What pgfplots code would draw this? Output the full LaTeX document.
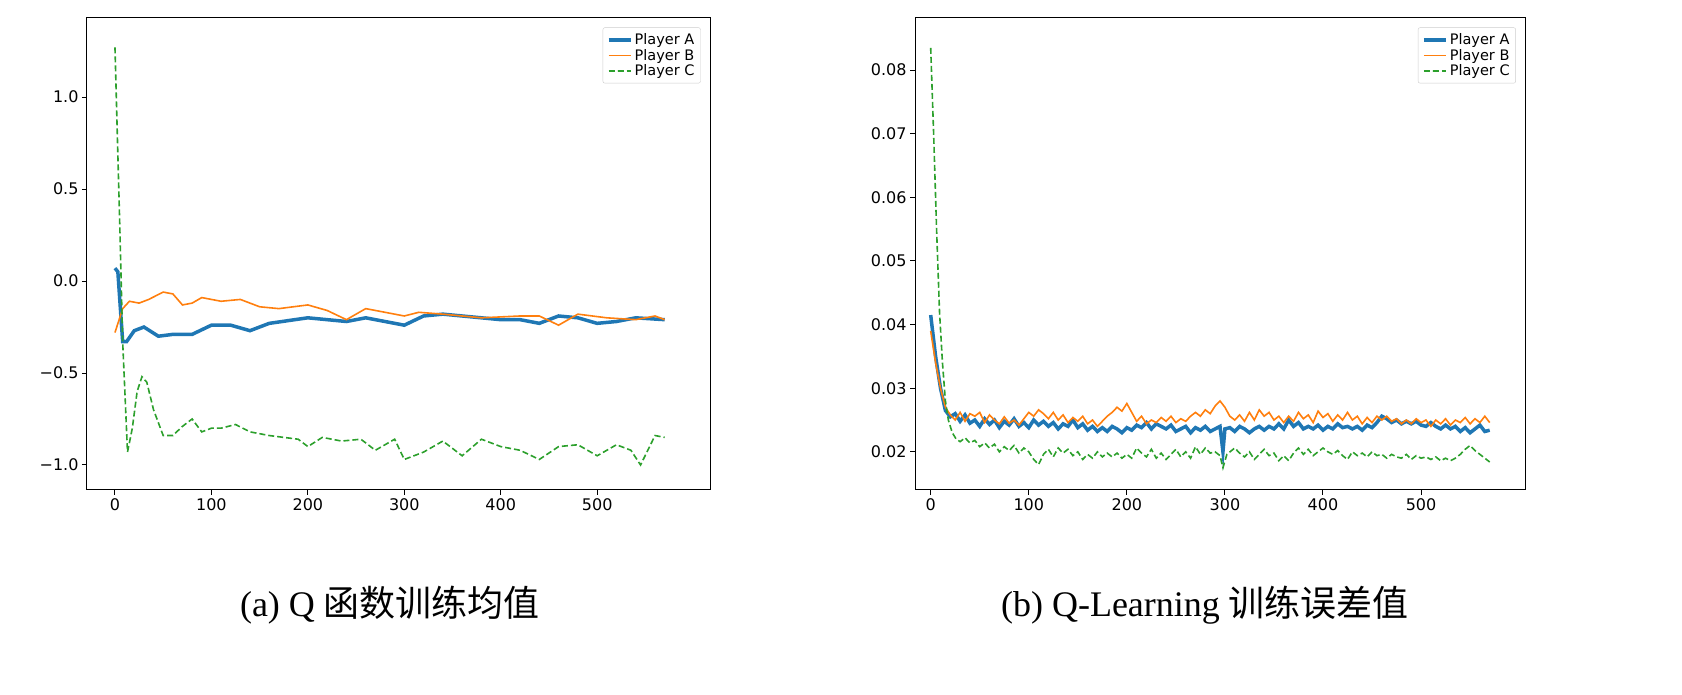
\documentclass[border=0pt]{standalone}
\usepackage{pgfplots}
\pgfplotsset{compat=1.18}
\usepackage{fontspec}
\setmainfont{Liberation Serif}
\newfontfamily\dv{DejaVu Sans}
\newfontfamily\cjk{Noto Sans CJK SC}
\definecolor{cA}{HTML}{1F77B4}
\definecolor{cB}{HTML}{FF7F0E}
\definecolor{cC}{HTML}{2CA02C}
\pgfplotsset{
  mpl/.style={scale only axis, height=472pt, axis line style={line width=1pt},
    tick align=outside, xtick pos=bottom, ytick pos=left, major tick length=5pt,
    tick style={line width=1pt, black},
    ticklabel style={font=\dv\fontsize{16}{18}\selectfont},
    /pgf/number format/assume math mode=true,
    xtick={0,100,200,300,400,500},
    legend style={at={(0.985,0.98)},anchor=north east, font=\dv\fontsize{14.5}{16}\selectfont,
      draw=black!20, rounded corners=2pt, row sep=-1pt, inner sep=4pt},
    legend cell align=left,
    legend image post style={xscale=1.3},
  }
}
\begin{document}
\begin{tikzpicture}
\path (0,0) rectangle (1682pt,695pt);
\begin{axis}[mpl, at={(87pt,205pt)}, anchor=south west, width=623pt,
  xmin=-29, xmax=617, ymin=-1.136, ymax=1.43,
  ytick={-1,-0.5,0,0.5,1}, yticklabels={−1.0,−0.5,0.0,0.5,1.0}]
\addplot[cA, line width=3.5pt] coordinates {(0,0.07)(3,0.05)(8,-0.33)(12,-0.33)(20,-0.27)(30,-0.25)(45,-0.30)(60,-0.29)(80,-0.29)(100,-0.24)(120,-0.24)(140,-0.27)(160,-0.23)(200,-0.2)(240,-0.22)(260,-0.2)(280,-0.22)(300,-0.24)(320,-0.19)(340,-0.18)(380,-0.2)(400,-0.21)(420,-0.21)(440,-0.23)(460,-0.19)(480,-0.2)(500,-0.23)(520,-0.22)(540,-0.2)(570,-0.21)};
\addlegendentry{Player A}
\addplot[cB, line width=1.6pt] coordinates {(0,-0.28)(8,-0.15)(15,-0.11)(25,-0.12)(35,-0.1)(50,-0.06)(60,-0.07)(70,-0.13)(80,-0.12)(90,-0.09)(110,-0.11)(130,-0.1)(150,-0.14)(170,-0.15)(200,-0.13)(220,-0.16)(240,-0.21)(260,-0.15)(280,-0.17)(300,-0.19)(315,-0.17)(340,-0.18)(380,-0.2)(420,-0.19)(440,-0.19)(460,-0.24)(480,-0.18)(510,-0.2)(540,-0.21)(560,-0.19)(570,-0.21)};
\addlegendentry{Player B}
\addplot[cC, line width=1.6pt, dash pattern=on 6pt off 3pt] coordinates {(0,1.27)(5,0.3)(8,-0.33)(13,-0.93)(18,-0.8)(23,-0.6)(28,-0.52)(33,-0.55)(40,-0.7)(50,-0.84)(60,-0.84)(70,-0.79)(80,-0.75)(90,-0.82)(100,-0.8)(110,-0.8)(125,-0.78)(140,-0.82)(160,-0.84)(175,-0.85)(190,-0.86)(200,-0.9)(215,-0.85)(235,-0.87)(255,-0.86)(270,-0.92)(290,-0.86)(300,-0.97)(320,-0.93)(340,-0.87)(360,-0.95)(380,-0.86)(400,-0.9)(420,-0.92)(440,-0.97)(460,-0.9)(480,-0.89)(500,-0.95)(520,-0.89)(535,-0.92)(545,-1.0)(560,-0.84)(570,-0.85)};
\addlegendentry{Player C}
\end{axis}
\begin{axis}[mpl, at={(915pt,205pt)}, anchor=south west, width=610pt,
  xmin=-16, xmax=606, ymin=0.014, ymax=0.0882,
  ytick={0.02,0.03,0.04,0.05,0.06,0.07,0.08},
  scaled y ticks=false,
  yticklabel style={/pgf/number format/fixed, /pgf/number format/fixed zerofill, /pgf/number format/precision=2}]
\addplot[cA, line width=3.5pt] coordinates {(0,.0415)(5,.035)(10,.030)(15,.0265)(20,.0255)(25,.026)(30,.0248)(35,.0258)(40,.0245)(45,.0250)(50,.0240)(55,.0252)(60,.0243)(65,.0250)(70,.0238)(75,.0248)(80,.0242)(85,.0252)(90,.0240)(95,.0246)(100,.0238)(105,.0250)(110,.0242)(115,.0248)(120,.0240)(125,.0246)(130,.0236)(135,.0244)(140,.0240)(145,.0250)(150,.0238)(155,.0244)(160,.0234)(165,.0240)(170,.0232)(175,.0238)(180,.0232)(185,.0240)(190,.0236)(195,.0230)(200,.0238)(205,.0234)(210,.0242)(215,.0238)(220,.0246)(225,.0236)(230,.0244)(235,.0240)(240,.0236)(245,.0242)(250,.0232)(255,.0236)(260,.0240)(265,.0230)(270,.0238)(275,.0234)(280,.0240)(285,.0232)(290,.0236)(295,.0240)(298,.0200)(300,.0236)(305,.0238)(310,.0232)(315,.0240)(320,.0236)(325,.0230)(330,.0236)(335,.0240)(340,.0234)(345,.0240)(350,.0236)(355,.0244)(360,.0236)(365,.0250)(370,.0240)(375,.0246)(380,.0236)(385,.0240)(390,.0236)(395,.0242)(400,.0234)(405,.0240)(410,.0236)(415,.0244)(420,.0238)(425,.0240)(430,.0236)(435,.0240)(440,.0234)(445,.0242)(450,.0238)(455,.0246)(460,.0256)(465,.0252)(470,.0246)(475,.0250)(480,.0244)(485,.0248)(490,.0244)(495,.0248)(500,.0242)(505,.0240)(510,.0246)(515,.0240)(520,.0236)(525,.0242)(530,.0236)(535,.0240)(540,.0232)(545,.0238)(550,.0230)(555,.0236)(560,.0242)(565,.0232)(570,.0234)};
\addlegendentry{Player A}
\addplot[cB, line width=1.6pt] coordinates {(0,.0390)(5,.034)(10,.0300)(15,.0270)(20,.0258)(25,.0250)(30,.0262)(35,.0248)(40,.0260)(45,.0256)(50,.0262)(55,.0246)(60,.0258)(65,.0250)(70,.0244)(75,.0255)(80,.0245)(85,.0250)(90,.0242)(95,.0252)(100,.0262)(105,.0256)(110,.0266)(115,.0260)(120,.0252)(125,.0262)(130,.0250)(135,.0258)(140,.0246)(145,.0254)(150,.0248)(155,.0256)(160,.0244)(165,.0250)(170,.0240)(175,.0248)(180,.0256)(185,.0262)(190,.0270)(195,.0264)(200,.0276)(205,.0262)(210,.0248)(215,.0256)(220,.0244)(225,.0250)(230,.0246)(235,.0254)(240,.0248)(245,.0256)(250,.0246)(255,.0252)(260,.0248)(265,.0256)(270,.0262)(275,.0256)(280,.0266)(285,.0260)(290,.0272)(295,.0280)(300,.0270)(305,.0256)(310,.0250)(315,.0258)(320,.0248)(325,.0262)(330,.0250)(335,.0266)(340,.0256)(345,.0262)(350,.0250)(355,.0256)(360,.0246)(365,.0256)(370,.0248)(375,.0262)(380,.0252)(385,.0258)(390,.0246)(395,.0264)(400,.0254)(405,.0260)(410,.0248)(415,.0258)(420,.0250)(425,.0262)(430,.0250)(435,.0256)(440,.0244)(445,.0254)(450,.0246)(455,.0256)(460,.0250)(465,.0256)(470,.0248)(475,.0252)(480,.0244)(485,.0250)(490,.0244)(495,.0252)(500,.0246)(505,.0250)(510,.0240)(515,.0250)(520,.0244)(525,.0252)(530,.0242)(535,.0250)(540,.0246)(545,.0254)(550,.0244)(555,.0252)(560,.0246)(565,.0256)(570,.0246)};
\addlegendentry{Player B}
\addplot[cC, line width=1.6pt, dash pattern=on 6pt off 3pt] coordinates {(0,.0835)(3,.07)(6,.055)(9,.042)(12,.034)(15,.028)(18,.025)(22,.0230)(26,.0220)(30,.0216)(35,.0222)(40,.0214)(45,.0218)(50,.0208)(55,.0214)(60,.0206)(65,.0212)(70,.0200)(75,.0208)(80,.0202)(85,.0210)(90,.0198)(95,.0206)(100,.0200)(105,.0188)(110,.0180)(115,.0196)(120,.0204)(125,.0192)(130,.0206)(135,.0198)(140,.0204)(145,.0194)(150,.0200)(155,.0188)(160,.0196)(165,.0190)(170,.0200)(175,.0192)(180,.0198)(185,.0192)(190,.0198)(195,.0190)(200,.0196)(205,.0190)(210,.0206)(215,.0198)(220,.0192)(225,.0204)(230,.0190)(235,.0198)(240,.0188)(245,.0196)(250,.0204)(255,.0192)(260,.0200)(265,.0190)(270,.0208)(275,.0196)(280,.0206)(285,.0198)(290,.0200)(295,.0194)(298,.0175)(302,.0196)(310,.0206)(315,.0198)(320,.0192)(325,.0200)(330,.0188)(335,.0196)(340,.0204)(345,.0194)(350,.0198)(355,.0186)(360,.0194)(365,.0186)(370,.0198)(375,.0206)(380,.0196)(385,.0204)(390,.0194)(395,.0200)(400,.0206)(405,.0200)(410,.0196)(415,.0202)(420,.0194)(425,.0188)(430,.0200)(435,.0194)(440,.0198)(445,.0192)(450,.0200)(455,.0194)(460,.0196)(465,.0190)(470,.0196)(475,.0192)(480,.0190)(485,.0196)(490,.0188)(495,.0194)(500,.0190)(505,.0192)(510,.0188)(515,.0192)(520,.0186)(525,.0190)(530,.0186)(535,.0190)(540,.0196)(545,.0204)(550,.0210)(555,.0202)(560,.0196)(565,.0190)(570,.0184)};
\addlegendentry{Player C}
\end{axis}
\node[font=\fontsize{36}{40}\selectfont] at (390pt,90pt) {(a) Q {\cjk 函数训练均值}};
\node[font=\fontsize{36}{40}\selectfont] at (1205pt,90pt) {(b) Q-Learning {\cjk 训练误差值}};
\end{tikzpicture}
\end{document}
